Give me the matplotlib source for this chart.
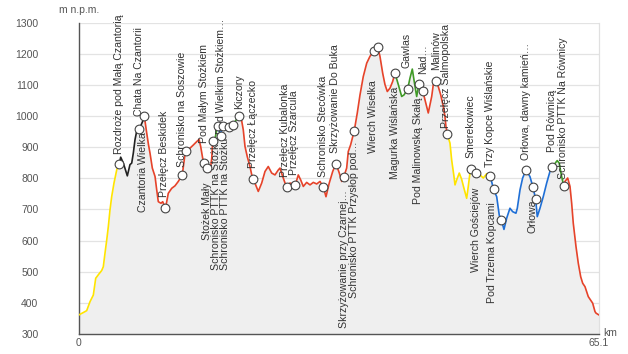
import matplotlib
matplotlib.use("Agg")
import matplotlib.pyplot as plt
import numpy as np

plt.rcParams['font.family'] = ['Liberation Sans', 'DejaVu Sans']

# ---- profile data (distance km, elevation m n.p.m.) ----
dist = [0.0, 0.58, 1.0, 1.42, 1.83, 2.13, 2.45, 2.88, 3.08, 3.29, 3.51, 3.71, 3.92, 4.13, 4.42, 4.76, 5.08,
        5.26, 5.59, 5.92, 6.09, 6.42, 6.64, 6.84, 7.05, 7.26, 7.59, 7.89, 8.09, 8.22,
        8.52, 8.74, 8.93, 9.22, 9.56, 9.77, 9.97, 10.31, 10.52, 10.87, 11.22, 11.65, 12.06, 12.47, 12.97,
        13.3, 13.5, 13.94, 14.35, 14.78, 15.07, 15.28, 15.53, 15.75, 16.1, 16.44, 16.66, 16.78,
        17.07, 17.26, 17.41, 17.78, 17.88, 18.11, 18.45, 18.86, 19.29, 19.58, 19.79, 20.11,
        20.39, 20.61, 20.83, 21.11, 21.45, 21.79, 22.07, 22.49, 22.92, 23.33, 23.74, 24.17, 24.58, 25.0,
        25.21, 25.55, 25.84, 26.15, 26.46, 27.13, 27.5, 27.8, 28.13, 28.55, 28.97, 29.38, 29.81, 30.22,
        30.63, 30.97, 31.38, 31.81, 32.22, 32.64, 32.94, 33.2, 33.56, 33.76, 34.06, 34.51, 34.89, 35.23,
        35.64, 36.07, 36.48, 36.98, 37.45, 37.73, 38.07, 38.36, 38.65, 38.99, 39.32, 39.61,
        40.03, 40.45, 40.74, 41.2, 41.49, 41.78, 42.12, 42.33, 42.62, 43.08,
        43.37, 43.78, 44.21, 44.41, 44.75, 45.03, 45.34, 45.66, 45.87, 45.99, 46.16,
        46.5, 46.71, 47.0, 47.13, 47.34, 47.66, 47.96, 48.25, 48.59, 48.79, 49.0, 49.09, 49.79, 50.26,
        50.67, 51.1, 51.55,
        51.95, 52.35, 52.67, 52.95, 53.26, 53.6, 54.01, 54.35, 54.76, 54.93, 55.27, 55.6, 56.01, 56.51,
        56.88, 57.23, 57.43, 57.77, 58.18, 58.61, 59.02, 59.31,
        59.93, 60.18, 60.48, 60.77,
        60.9, 61.24, 61.53, 61.74, 61.94, 62.28, 62.57, 62.87, 63.12, 63.41, 63.82, 64.37, 64.66, 64.79, 65.1]

elev = [361, 369, 375, 404, 425, 479, 490, 504, 516, 559, 602, 645, 699, 741, 785, 827, 847,
        868, 849, 822, 808, 844, 849, 881, 924, 951, 958, 976, 988, 999,
        945, 908, 881, 833, 806, 763, 725, 720, 725, 704, 752, 768, 776, 790, 811,
        875, 888, 897, 907, 918, 925, 902, 864, 848, 832, 821, 864, 921,
        924, 956, 967, 937, 956, 967, 966, 965, 972, 982, 990, 999,
        988, 956, 902, 870, 838, 797, 785, 758, 785, 822, 838, 817, 811, 827,
        833, 806, 785, 773, 785, 779, 811, 795, 774, 787, 779, 787, 782, 790,
        773, 741, 785, 822, 847, 817, 790, 805, 833, 886, 908, 953, 1010, 1068,
        1127, 1170, 1192, 1210, 1222, 1192, 1138, 1101, 1079, 1090, 1111, 1138,
        1101, 1063, 1068, 1087, 1122, 1151, 1095, 1063, 1104, 1082,
        1052, 1010, 1063, 1101, 1113, 1095, 1068, 1031, 999, 967, 942,
        913, 859, 806, 779, 795, 817, 797, 768, 736, 774, 817, 831, 816, 811,
        801, 815, 807,
        765, 741, 682, 665, 636, 672, 704, 693, 688, 704, 763, 801, 826, 806,
        773, 733, 677, 704, 741, 785, 822, 837,
        857, 849, 806, 774,
        790, 801, 774, 720, 656, 581, 527, 484, 463, 452, 420, 399, 372, 367, 362]

# trail colour segments (start km, end km, trail colour)
seg_start = [0.0, 5.08, 8.22, 16.78, 17.41, 18.11, 20.11, 39.61, 43.08, 46.16, 51.55, 59.31, 60.77]
seg_end = [5.08, 8.22, 16.78, 17.41, 18.11, 20.11, 39.61, 43.08, 46.16, 51.55, 59.31, 60.77, 65.1]
seg_trail = ['yellow', 'black', 'red', 'green', 'blue', 'green', 'red', 'green', 'red',
             'yellow', 'blue', 'green', 'red']

# waypoints
wp_km = [5.08, 7.59, 8.22, 10.87, 12.97, 13.5, 15.75, 16.1, 16.78, 17.41, 17.78, 18.11, 18.86, 19.29,
         20.11, 21.79, 26.15, 27.13, 30.63, 32.22, 33.2, 34.51, 36.98, 37.45, 39.61, 41.2, 42.62, 43.08,
         44.75, 46.16, 49.09, 49.79, 51.55, 51.95, 52.95, 56.01, 56.88, 57.23, 59.31, 60.77]
wp_m = [847, 958, 999, 704, 811, 888, 848, 832, 921, 967, 937, 967, 965, 972,
        999, 797, 773, 779, 773, 847, 805, 953, 1210, 1222, 1138, 1087, 1104, 1082,
        1113, 942, 831, 816, 807, 765, 665, 826, 773, 733, 837, 774]
wp_names = ["Rozdroże pod Małą Czantorią", "Czantoria Wielka", "Chata Na Czantorii",
            "Przełęcz Beskidek", "Schronisko na Soszowie", "", "Pod Małym Stożkiem",
            "Stożek Mały", "", "Schronisko PTTK na Stożku", "Pod Wielkim Stożkiem…",
            "Schronisko PTTK na Stożku", "", "", "Kiczory", "Przełęcz Łączecko",
            "Przełęcz Kubalonka", "Przełęcz Szarcula", "Schronisko Stecówka",
            "Skrzyżowanie Do Buka", "Skrzyżowanie przy Czarnej…", "Schronisko PTTK Przysłop pod…",
            "Wierch Wisełka", "", "Magurka Wiślańska", "Gawlas", "Pod Malinowską Skałą", "Nad…",
            "Malinów", "Przełęcz Salmopolska", "Smerekowiec", "Wierch Gościejów",
            "Trzy Kopce Wiślańskie", "Pod Trzema Kopcami", "", "Orłowa, dawny kamień…",
            "Orłowa", "", "Pod Równicą", "Schronisko PTTK Na Równicy"]

# label placement style: direction (+1 above, -1 below), gap px, horizontal shift px
lab_dir = [1, -1, 1, 1, 1, 1, 1, -1, 1, -1, 1, -1, 1, 1, 1, 1, 1, 1, 1, 1, -1, -1, -1, 1,
           -1, 1, -1, 1, 1, 1, 1, -1, 1, -1, 1, 1, -1, 1, 1, 1]
lab_gap = [10, 3, 0, 11, 8, 8, 20, 14, 8, 11, 2, 11, 8, 8, 7, 11, 10, 10, 10, 11, 13, 11, 30, 8,
           14, 21, 14, 17, 11, 6, 11, 14, 9, 13, 8, 10, 13, 8, 15, 7]
lab_dx = [0, 4, -5, -1, 0, 0, 0, 0, 0, -1.5, 0, 1.5, 0, 0, 0, 0, -2, -1, 0, -1, 0, 0, -1, 0,
          0, -1, -1, 0, 0, -1, 0, 0, 0, -2, 0, 0, 0, 0, 0, -1]

trail_colors = {'yellow': '#ffe400', 'black': '#222222', 'red': '#e6432a',
                'green': '#3f9a26', 'blue': '#1f6fd6'}

W, H = 628, 354
fig = plt.figure(figsize=(W / 100, H / 100), dpi=100)
x0, x1, ytop, ybot = 78.7, 598.5, 22.7, 334.0
ax = fig.add_axes([x0 / W, 1 - ybot / H, (x1 - x0) / W, (ybot - ytop) / H])

d = np.array(dist)
e = np.array(elev)
ax.fill_between(d, e, 300, color='#efefef', lw=0, zorder=1)

for s0, s1, t in zip(seg_start, seg_end, seg_trail):
    m = (d >= s0 - 1e-9) & (d <= s1 + 1e-9)
    ax.plot(d[m], e[m], color=trail_colors[t], lw=1.2, zorder=3, solid_joinstyle='round')

ax.set_xlim(0, 65.1)
ax.set_ylim(300, 1300)
ax.set_yticks(range(300, 1301, 100))
ax.set_xticks([0, 65.1])
ax.set_xticklabels(['0', '65.1'])
ax.tick_params(axis='y', length=0, pad=29, labelsize=7.5, labelcolor='#555555')
ax.tick_params(axis='x', length=0, pad=3, labelsize=7.5, labelcolor='#555555')
ax.grid(axis='y', color='#e3e3e3', lw=0.9, zorder=0)
ax.set_axisbelow(True)
ax.spines['top'].set_visible(False)
ax.spines['right'].set_color('#e0e0e0')
ax.spines['right'].set_linewidth(0.9)
ax.spines['left'].set_color('#555555')
ax.spines['bottom'].set_color('#555555')
ax.spines['left'].set_linewidth(1.0)
ax.spines['bottom'].set_linewidth(1.0)

ax.plot(wp_km, wp_m, 'o', ms=6.3, mfc='white', mec='#444444', mew=0.8, zorder=5, clip_on=False)

for k, mm, name, dr, g, dx in zip(wp_km, wp_m, wp_names, lab_dir, lab_gap, lab_dx):
    if not name:
        continue
    ax.annotate(name, xy=(k, mm), xytext=(dx, dr * g), textcoords='offset pixels',
                rotation=90, ha='center', va='bottom' if dr > 0 else 'top',
                fontsize=7.6, color='#333333', zorder=4, annotation_clip=False)

fig.text(79 / W, 1 - 10 / H, 'm n.p.m.', ha='center', va='center', fontsize=7.5, color='#555555')
fig.text(603 / W, 1 - 333 / H, 'km', ha='left', va='center', fontsize=7.5, color='#555555')

fig.savefig('out.png', dpi=100)
